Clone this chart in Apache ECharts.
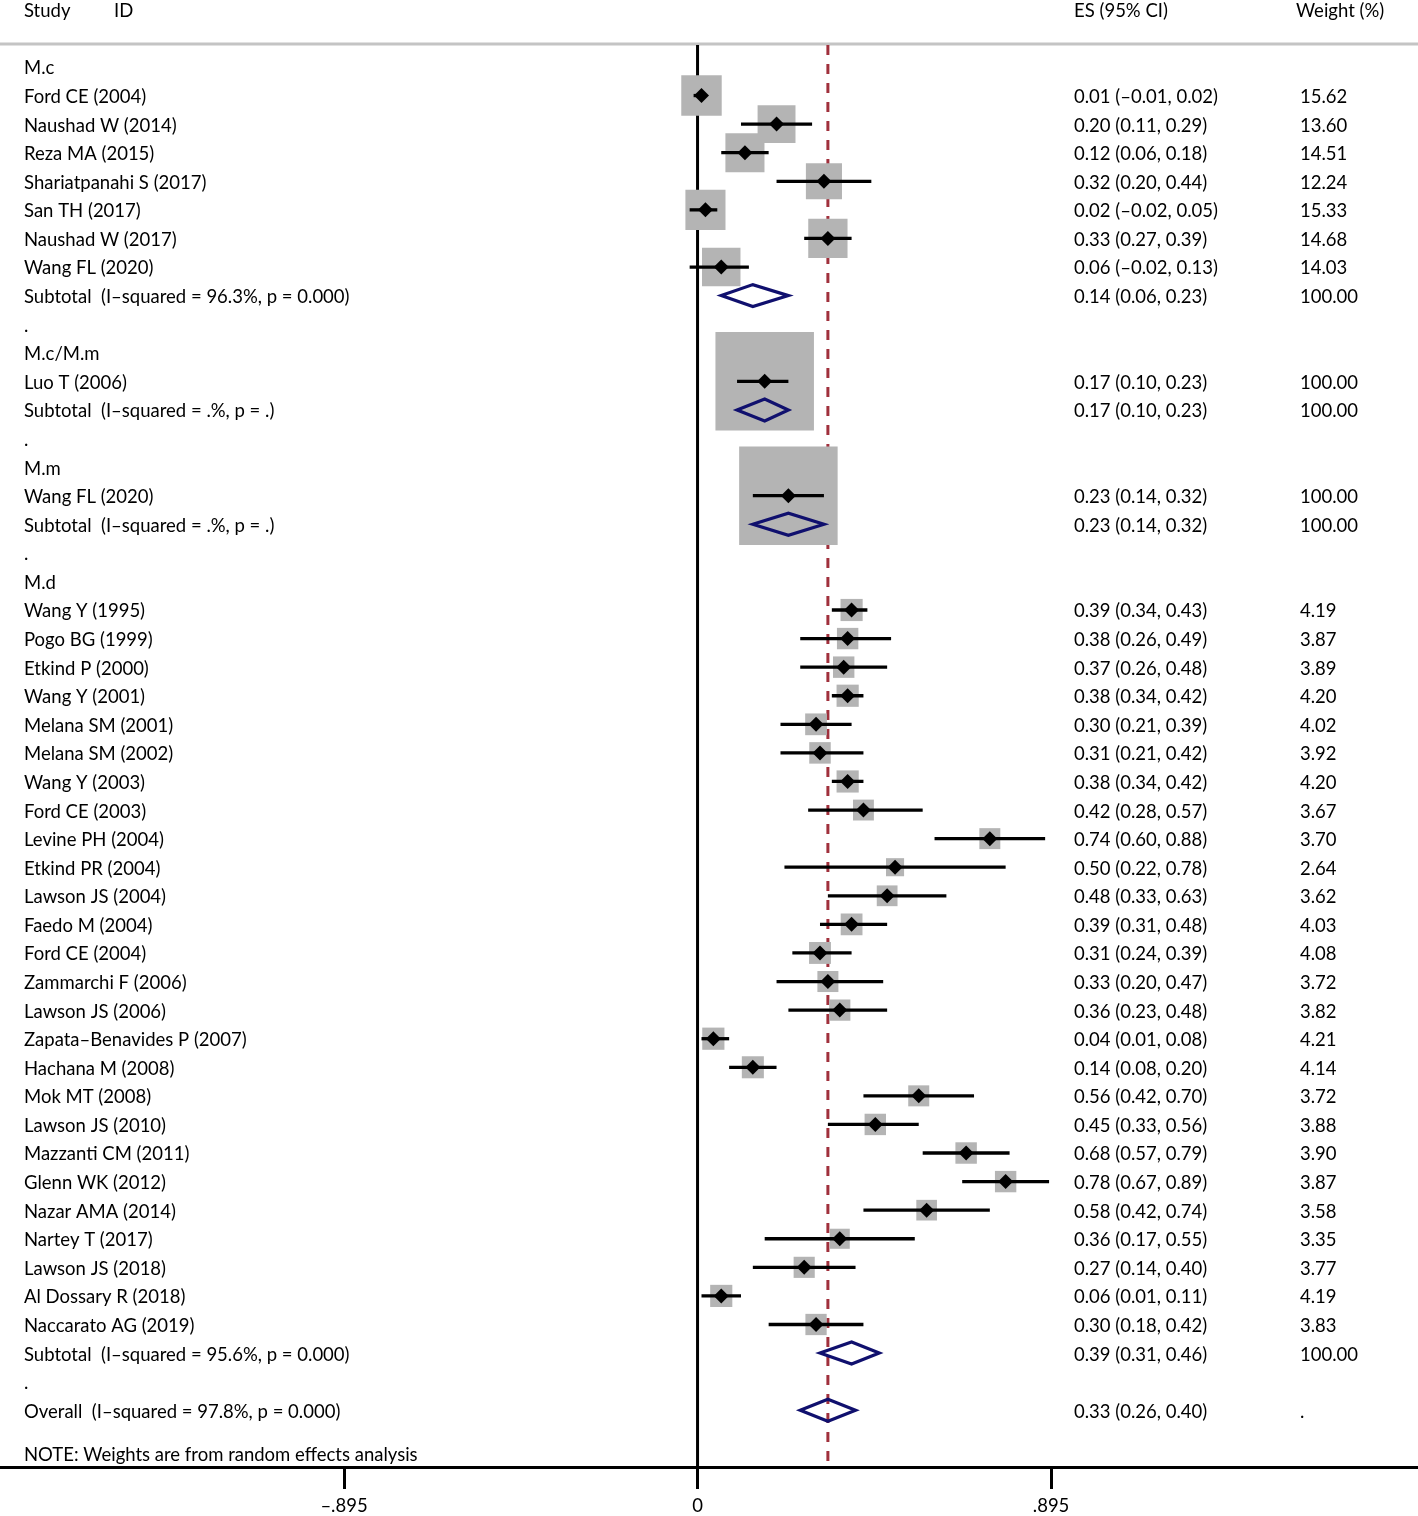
<!DOCTYPE html>
<html><head><meta charset="utf-8">
<script src="https://cdn.jsdelivr.net/npm/echarts@6/dist/echarts.min.js"></script>
<style>html,body{margin:0;padding:0;background:#fff}#c{width:1418px;height:1516px}</style>
</head><body><div id="c"></div>
<script>
// ---------- data ----------
const columnHeaders = ['Study', 'ID', 'ES (95% CI)', 'Weight (%)'];
const rowLabels = [
  'M.c', 'Ford CE (2004)', 'Naushad W (2014)', 'Reza MA (2015)', 'Shariatpanahi S (2017)', 'San TH (2017)',
  'Naushad W (2017)', 'Wang FL (2020)', 'Subtotal  (I–squared = 96.3%, p = 0.000)', '.',
  'M.c/M.m', 'Luo T (2006)', 'Subtotal  (I–squared = .%, p = .)', '.',
  'M.m', 'Wang FL (2020)', 'Subtotal  (I–squared = .%, p = .)', '.',
  'M.d', 'Wang Y (1995)', 'Pogo BG (1999)', 'Etkind P (2000)', 'Wang Y (2001)', 'Melana SM (2001)',
  'Melana SM (2002)', 'Wang Y (2003)', 'Ford CE (2003)', 'Levine PH (2004)', 'Etkind PR (2004)',
  'Lawson JS (2004)', 'Faedo M (2004)', 'Ford CE (2004)', 'Zammarchi F (2006)', 'Lawson JS (2006)',
  'Zapata–Benavides P (2007)', 'Hachana M (2008)', 'Mok MT (2008)', 'Lawson JS (2010)', 'Mazzanti CM (2011)',
  'Glenn WK (2012)', 'Nazar AMA (2014)', 'Nartey T (2017)', 'Lawson JS (2018)', 'Al Dossary R (2018)',
  'Naccarato AG (2019)', 'Subtotal  (I–squared = 95.6%, p = 0.000)', '.',
  'Overall  (I–squared = 97.8%, p = 0.000)'
];
const rowKinds = [
  'group', 'study', 'study', 'study', 'study', 'study', 'study', 'study', 'subtotal', 'gap',
  'group', 'study', 'subtotal', 'gap',
  'group', 'study', 'subtotal', 'gap',
  'group', 'study', 'study', 'study', 'study', 'study', 'study', 'study', 'study', 'study', 'study',
  'study', 'study', 'study', 'study', 'study', 'study', 'study', 'study', 'study', 'study',
  'study', 'study', 'study', 'study', 'study', 'study', 'subtotal', 'gap',
  'overall'
];
const esValues = [
  null, 0.01, 0.20, 0.12, 0.32, 0.02, 0.33, 0.06, 0.14, null,
  null, 0.17, 0.17, null,
  null, 0.23, 0.23, null,
  null, 0.39, 0.38, 0.37, 0.38, 0.30, 0.31, 0.38, 0.42, 0.74, 0.50,
  0.48, 0.39, 0.31, 0.33, 0.36, 0.04, 0.14, 0.56, 0.45, 0.68,
  0.78, 0.58, 0.36, 0.27, 0.06, 0.30, 0.39, null,
  0.33
];
const ciLower = [
  null, -0.01, 0.11, 0.06, 0.20, -0.02, 0.27, -0.02, 0.06, null,
  null, 0.10, 0.10, null,
  null, 0.14, 0.14, null,
  null, 0.34, 0.26, 0.26, 0.34, 0.21, 0.21, 0.34, 0.28, 0.60, 0.22,
  0.33, 0.31, 0.24, 0.20, 0.23, 0.01, 0.08, 0.42, 0.33, 0.57,
  0.67, 0.42, 0.17, 0.14, 0.01, 0.18, 0.31, null,
  0.26
];
const ciUpper = [
  null, 0.02, 0.29, 0.18, 0.44, 0.05, 0.39, 0.13, 0.23, null,
  null, 0.23, 0.23, null,
  null, 0.32, 0.32, null,
  null, 0.43, 0.49, 0.48, 0.42, 0.39, 0.42, 0.42, 0.57, 0.88, 0.78,
  0.63, 0.48, 0.39, 0.47, 0.48, 0.08, 0.20, 0.70, 0.56, 0.79,
  0.89, 0.74, 0.55, 0.40, 0.11, 0.42, 0.46, null,
  0.40
];
const weights = [
  null, 15.62, 13.60, 14.51, 12.24, 15.33, 14.68, 14.03, 100.00, null,
  null, 100.00, 100.00, null,
  null, 100.00, 100.00, null,
  null, 4.19, 3.87, 3.89, 4.20, 4.02, 3.92, 4.20, 3.67, 3.70, 2.64,
  3.62, 4.03, 4.08, 3.72, 3.82, 4.21, 4.14, 3.72, 3.88, 3.90,
  3.87, 3.58, 3.35, 3.77, 4.19, 3.83, 100.00, null,
  null
];
const noteText = 'NOTE: Weights are from random effects analysis';
const overallES = 0.33;
const tickValues = [-0.895, 0, 0.895];
const tickLabels = ['–.895', '0', '.895'];

// ---------- layout / style ----------
const FONT = 'Lato';
const FS = 18.5;
const TEXT_DY = 1.5;
const X_MIN = -1.766, X_MAX = 1.824;
const Y_MIN = -2.343, Y_MAX = 48.986;
const HEADER_ROW = -2, LINE_TOP = -0.77, HEADER_LINE = -0.80, NOTE_ROW = 48.5;
const COL_LABEL = 24, COL_ID = 114, COL_ES = 1074, COL_W = 1300, COL_WH = 1296;

const fmt = v => (v < 0 ? '–' : '') + Math.abs(v).toFixed(2);

const studyData = [], sumData = [], textData = [];
rowLabels.forEach((lab, i) => {
  textData.push([0, i, i]);
  if (rowKinds[i] === 'study') studyData.push([esValues[i], i, ciLower[i], ciUpper[i], weights[i]]);
  if (rowKinds[i] === 'subtotal' || rowKinds[i] === 'overall') sumData.push([esValues[i], i, ciLower[i], ciUpper[i]]);
});

const txt = (x, y, s, align) => ({
  type: 'text', x: x, y: y + TEXT_DY,
  style: { text: s, fill: '#000', font: FS + 'px ' + FONT, textAlign: align || 'left', textVerticalAlign: 'middle' }
});

const option = {
  animation: false,
  backgroundColor: '#fff',
  grid: { left: 0, right: 0, top: 0, bottom: 48 },
  xAxis: {
    type: 'value', min: X_MIN, max: X_MAX,
    splitLine: { show: false },
    axisLine: { show: true, onZero: false, lineStyle: { color: '#000', width: 3 } },
    axisTick: { show: true, customValues: tickValues, length: 22, lineStyle: { color: '#000', width: 3 } },
    axisLabel: {
      customValues: tickValues, margin: 30, fontSize: FS, fontFamily: FONT, color: '#000',
      formatter: v => tickLabels[tickValues.findIndex(t => Math.abs(t - v) < 1e-9)]
    }
  },
  yAxis: { type: 'value', inverse: true, min: Y_MIN, max: Y_MAX, show: false },
  series: [
    { // header rule
      type: 'custom', z: 1, silent: true, data: [[0, HEADER_LINE]],
      renderItem: (params, api) => {
        const cs = params.coordSys;
        const y = api.coord([0, api.value(1)])[1];
        return { type: 'line', shape: { x1: cs.x, y1: y, x2: cs.x + cs.width, y2: y }, style: { stroke: '#c4c4c4', lineWidth: 3 } };
      }
    },
    { // reference lines: null line and overall effect
      type: 'custom', z: 2, silent: true, data: [[0, 0], [overallES, 1]],
      renderItem: (params, api) => {
        const a = api.coord([api.value(0), LINE_TOP]);
        const b = api.coord([api.value(0), Y_MAX]);
        const dashed = api.value(1) === 1;
        return {
          type: 'line', shape: { x1: a[0], y1: a[1], x2: b[0], y2: b[1] },
          style: dashed ? { stroke: '#a0303c', lineWidth: 3, lineDash: [10, 9] } : { stroke: '#000', lineWidth: 3 }
        };
      }
    },
    { // weight boxes
      type: 'custom', z: 3, silent: true, data: studyData,
      renderItem: (params, api) => {
        const c = api.coord([api.value(0), api.value(1)]);
        const s = 2.5 + 9.6 * Math.sqrt(api.value(4));
        return { type: 'rect', shape: { x: c[0] - s / 2, y: c[1] - s / 2, width: s, height: s }, style: { fill: '#b4b4b4' } };
      }
    },
    { // CI lines and point estimates
      type: 'custom', z: 4, silent: true, data: studyData,
      renderItem: (params, api) => {
        const c = api.coord([api.value(0), api.value(1)]);
        const l = api.coord([api.value(2), api.value(1)]);
        const h = api.coord([api.value(3), api.value(1)]);
        const d = 7.5;
        return {
          type: 'group', children: [
            { type: 'line', shape: { x1: l[0], y1: l[1], x2: h[0], y2: h[1] }, style: { stroke: '#000', lineWidth: 3.3 } },
            { type: 'polygon', shape: { points: [[c[0] - d, c[1]], [c[0], c[1] - d], [c[0] + d, c[1]], [c[0], c[1] + d]] }, style: { fill: '#000' } }
          ]
        };
      }
    },
    { // pooled diamonds
      type: 'custom', z: 5, silent: true, data: sumData,
      renderItem: (params, api) => {
        const c = api.coord([api.value(0), api.value(1)]);
        const l = api.coord([api.value(2), api.value(1)]);
        const h = api.coord([api.value(3), api.value(1)]);
        const hh = 11;
        return {
          type: 'polygon',
          shape: { points: [[l[0], c[1]], [c[0], c[1] - hh], [h[0], c[1]], [c[0], c[1] + hh]] },
          style: { fill: 'transparent', stroke: '#10106e', lineWidth: 3.2, lineJoin: 'miter' }
        };
      }
    },
    { // text columns
      type: 'custom', z: 6, silent: true, data: textData,
      renderItem: (params, api) => {
        const i = api.value(2);
        const y = api.coord([0, api.value(1)])[1];
        const children = [txt(COL_LABEL, y, rowLabels[i])];
        if (esValues[i] != null) {
          children.push(txt(COL_ES, y, fmt(esValues[i]) + ' (' + fmt(ciLower[i]) + ', ' + fmt(ciUpper[i]) + ')'));
          children.push(txt(COL_W, y, weights[i] != null ? weights[i].toFixed(2) : '.'));
        }
        if (i === 0) {
          const hy = api.coord([0, HEADER_ROW])[1];
          children.push(txt(COL_LABEL, hy, columnHeaders[0]));
          children.push(txt(COL_ID, hy, columnHeaders[1]));
          children.push(txt(COL_ES, hy, columnHeaders[2]));
          children.push(txt(COL_WH, hy, columnHeaders[3]));
          const ny = api.coord([0, NOTE_ROW])[1];
          children.push(txt(COL_LABEL, ny, noteText));
        }
        return { type: 'group', children: children };
      }
    }
  ]
};
const chart = echarts.init(document.getElementById('c'), null, { renderer: 'canvas' });
chart.setOption(option);
</script>
</body></html>
